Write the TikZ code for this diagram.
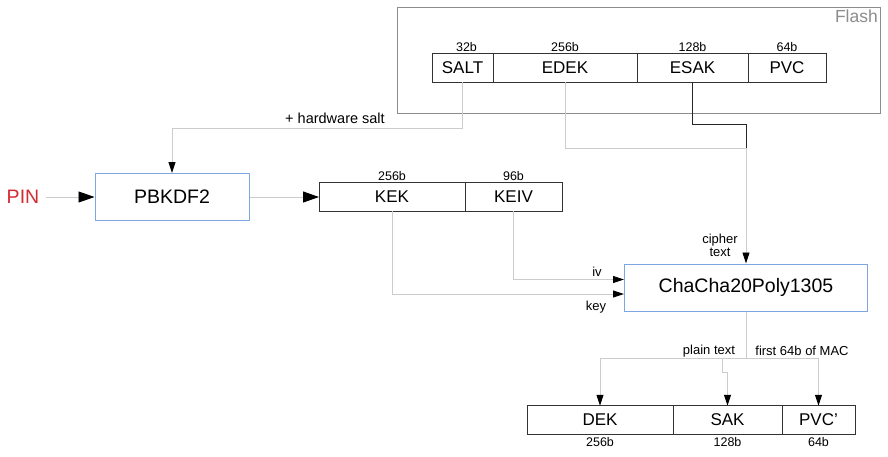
\documentclass[tikz,border=0pt]{standalone}
\usepackage{fontspec}
\setmainfont{Liberation Sans}
\usetikzlibrary{arrows.meta,positioning}
\definecolor{wire}{HTML}{CCCCCC}
\definecolor{frame}{HTML}{8C8C8C}
\definecolor{stage}{HTML}{7EA6E0}
\definecolor{pinred}{HTML}{D42A32}

\tikzset{
  field/.style={draw=black!80,line width=1pt,minimum height=28.5pt,inner sep=0pt,outer sep=0pt,font=\fontsize{17}{19}\selectfont},
  stagebox/.style={draw=stage,line width=1pt,inner sep=0pt,font=\fontsize{19.5}{22}\selectfont},
  bits/.style={inner sep=2pt,font=\fontsize{12.5}{14}\selectfont},
  tag/.style={inner sep=1pt,font=\fontsize{13}{15}\selectfont},
  wire/.style={draw=wire,line width=0.9pt},
  bigtip/.style={-{Triangle[length=16pt,width=11pt,color=black]}},
  smalltip/.style={-{Triangle[length=11pt,width=7pt,color=black]}}
}

\begin{document}
\begin{tikzpicture}[x=1pt,y=-1pt]
  \useasboundingbox (0,0) rectangle (888,456);

  \node[draw=frame,line width=1pt,minimum width=483pt,minimum height=106pt,inner sep=0pt] (flash) at (639,60) {};
  \node[anchor=north east,inner sep=3pt,text=frame,font=\fontsize{17.5}{20}\selectfont] (flashname) at (flash.north east) {Flash};

  \node[field,minimum width=61pt] (salt) at (462.5,68) {SALT};
  \node[field,minimum width=144pt,right=0pt of salt] (edek) {EDEK};
  \node[field,minimum width=111pt,right=0pt of edek] (esak) {ESAK};
  \node[field,minimum width=78pt,right=0pt of esak] (pvc) {PVC};
  \node[bits,above=0pt of salt,xshift=4pt] (bsalt) {32b};
  \node[bits,above=0pt of edek] (bedek) {256b};
  \node[bits,above=0pt of esak] (besak) {128b};
  \node[bits,above=0pt of pvc] (bpvc) {64b};

  \node[text=pinred,font=\fontsize{19.5}{22}\selectfont,inner sep=7pt] (pin) at (23,197) {PIN};
  \node[stagebox,minimum width=154pt,minimum height=47pt] (pbkdf) at (172,197) {PBKDF2};

  \node[field,minimum width=146pt] (kek) at (392,197) {KEK};
  \node[field,minimum width=97pt,right=0pt of kek] (keiv) {KEIV};
  \node[bits,above=0pt of kek] (bkek) {256b};
  \node[bits,above=0pt of keiv] (bkeiv) {96b};

  \node[stagebox,minimum width=243pt,minimum height=47pt] (chacha) at (746,287.5) {ChaCha20Poly1305};

  \node[field,minimum width=146pt] (dek) at (600,420) {DEK};
  \node[field,minimum width=109pt,right=0pt of dek] (sak) {SAK};
  \node[field,minimum width=73pt,right=0pt of sak] (pvcp) {PVC’};
  \node[bits,below=1pt of dek] (bdek) {256b};
  \node[bits,below=1pt of sak] (bsak) {128b};
  \node[bits,below=1pt of pvcp] (bpvcp) {64b};

  \node[tag,font=\fontsize{14.5}{16}\selectfont] (hwsalt) at (335,118) {+ hardware salt};
  \node[tag,align=center] (ctext) at (720,245) {cipher\\[-2pt]text};
  \node[tag] (ivlbl) at (597,272) {iv};
  \node[tag] (keylbl) at (596,307) {key};
  \node[tag] (ptext) at (709,351) {plain text};
  \node[tag] (maclbl) at (802,351) {first 64b of MAC};

  \coordinate (join) at (chacha.north |- 0,148);
  \coordinate (split) at (chacha.south |- 0,358);
  \coordinate (jog) at (722,358);

  \draw[wire,bigtip] (pin.east) -- (pbkdf.west |- pin.east);
  \draw[wire,smalltip] (salt.south) -- (salt.south |- 0,128) -| (pbkdf.north);
  \draw[wire,bigtip] (pbkdf.east) -- (kek.west);

  \draw[wire] (edek.south) |- (join);
  \draw[black!85,line width=1pt] (esak.south) -- (esak.south |- 0,124) -| (join);
  \draw[wire,smalltip] (join) -- (chacha.north);

  \draw[wire,smalltip] (keiv.south) |- (chacha.west |- 0,279.5);
  \draw[wire,smalltip] (kek.south) |- (chacha.west |- 0,294);

  \draw[wire] (chacha.south) -- (split);
  \draw[wire,smalltip] (split) -| (dek.north);
  \draw[wire,smalltip] (split) -| (pvcp.north);
  \draw[wire,smalltip] (jog) -- ++(0,14) -| (sak.north);
\end{tikzpicture}
\end{document}
